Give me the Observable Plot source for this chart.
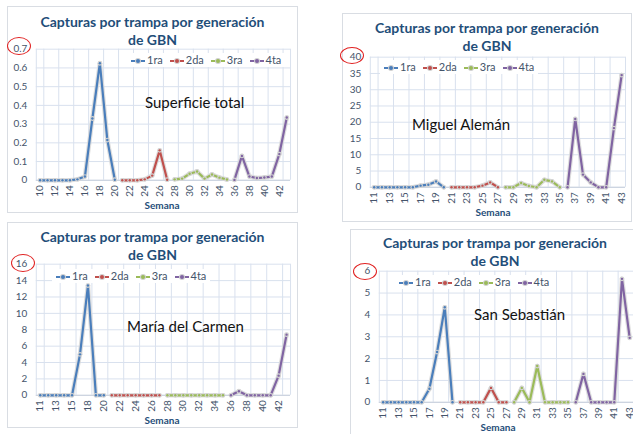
<!DOCTYPE html>
<html><head><meta charset="utf-8">
<script src="https://cdn.jsdelivr.net/npm/d3@7"></script>
<script src="https://cdn.jsdelivr.net/npm/@observablehq/plot@0.6"></script>
<style>
body{margin:0;width:633px;height:434px;overflow:hidden;position:relative;background:#fff;font-family:Lato,"Open Sans",sans-serif;}
.box{position:absolute;border:1px solid #d9dde3;box-sizing:border-box;background:#fff;}
.box svg{position:absolute;left:0;top:0;}
.abs{position:absolute;white-space:nowrap;}
.title{color:#1f4e79;font-weight:bold;font-size:14px;line-height:18px;text-align:center;}
.leg{background:#fff;color:#44546a;font-size:11px;line-height:14px;padding:0 4px;display:flex;gap:7px;align-items:center;}
.sw{display:inline-block;position:relative;width:14px;height:2px;margin-right:2px;vertical-align:middle;}
.sw i{position:absolute;left:5px;top:-1.5px;width:4px;height:4px;border-radius:50%;background:#cfcfcf;}
.lab{color:#111;font-size:15px;transform:translateY(-50%);}
.sem{color:#1f4e79;font-weight:bold;font-size:10px;transform:translate(-50%,-50%);}
.circ{position:absolute;border:1.3px solid #e02020;border-radius:50%;box-sizing:border-box;}
</style></head>
<body>
<script>
const gens = ["1ra", "2da", "3ra", "4ta"];
const genColors = ["#4a7ebb", "#c0504d", "#9bbb59", "#8064a2"];

// Superficie total
const weeksST = [10,11,12,13,14,15,16,17,18,19,20,21,22,23,24,25,26,27,28,29,30,31,32,33,34,35,36,37,38,39,40,41,42,43];
const valuesST = [0,0,0,0,0,0.005,0.02,0.33,0.625,0.215,0.003,
                  0,0,0,0.005,0.025,0.16,0.003,
                  0.005,0.009,0.035,0.047,0.009,0.031,0.014,0.004,
                  0.002,0.13,0.02,0.012,0.015,0.02,0.14,0.335];
const yTicksST = [0,0.1,0.2,0.3,0.4,0.5,0.6,0.7];

// Miguel Alemán
const weeksMA = [11,12,13,14,15,16,17,18,19,20,21,22,23,24,25,26,27,28,29,30,31,32,33,34,35,36,37,38,39,40,41,42,43];
const valuesMA = [0,0,0,0,0,0,0.5,0.8,1.8,0,
                  0,0,0,0,0.5,1.5,0,
                  0,0,1.3,0.4,0,2.3,1.8,0,
                  0,21,3.9,1.5,0,0,18.2,34.5];
const yTicksMA = [0,5,10,15,20,25,30,35,40];

// María del Carmen
const weeksMC = [11,12,13,14,15,16,18,19,20,21,22,23,24,25,26,27,28,29,30,31,32,33,34,35,36,37,38,39,40,41,42,43];
const valuesMC = [0,0,0,0,0,5,13.4,0,0,
                  0,0,0,0,0,0,0,
                  0,0,0,0,0,0,0,0,
                  0,0.5,0,0,0,0,2.4,7.4];
const yTicksMC = [0,2,4,6,8,10,12,14,16];

// San Sebastián
const weeksSS = [11,12,13,14,15,16,17,18,19,20,21,22,23,24,25,26,27,28,29,30,31,32,33,34,35,36,37,38,39,40,41,42,43];
const valuesSS = [0,0,0,0,0,0,0.62,2.3,4.35,0,
                  0,0,0,0,0.66,0,0,
                  0,0.66,0,1.66,0,0,0,0,
                  0,1.3,0,0,0,0,5.65,2.95];
const yTicksSS = [0,1,2,3,4,5,6];

const genOf = w => w <= 20 ? "1ra" : w <= 27 ? "2da" : w <= 35 ? "3ra" : "4ta";

const panels = [
  {weeks: weeksST, values: valuesST, yTicks: yTicksST, label: "Superficie total",
   box: [7, 6, 291, 207], m: [42, 7, 33, 28], titleTop: 13, leg: [127, 60], lab: [145, 102], sem: [162, 205], circ: [19, 46, 12, 9]},
  {weeks: weeksMA, values: valuesMA, yTicks: yTicksMA, label: "Miguel Alemán",
   box: [342, 13, 290, 209], m: [43, 6, 35, 27], titleTop: 19, leg: [380, 67], lab: [412, 124], sem: [493, 212], circ: [352, 55, 12, 8.5]},
  {weeks: weeksMC, values: valuesMC, yTicks: yTicksMC, label: "María del Carmen",
   box: [7, 222, 291, 206], m: [41, 7, 33, 28], titleTop: 228, leg: [52, 276], lab: [127, 326], sem: [162, 420], circ: [23, 263, 12, 9]},
  {weeks: weeksSS, values: valuesSS, yTicks: yTicksSS, label: "San Sebastián",
   box: [350, 229, 290, 208], m: [41, 6, 35, 28], titleTop: 234, leg: [395, 282], lab: [474, 314], sem: [498, 427], circ: [365, 271, 12, 8.5]}
];

function el(cls, html, styles) {
  const d = document.createElement("div");
  d.className = cls;
  d.innerHTML = html;
  Object.assign(d.style, styles);
  document.body.appendChild(d);
  return d;
}

for (const p of panels) {
  const [bx, by, bw, bh] = p.box;
  const [mt, mr, mb, ml] = p.m;
  const n = p.weeks.length;
  const data = p.weeks.map((w, i) => ({i, w, v: p.values[i], gen: genOf(w)}));
  const labeled = d3.range(0, n, 2);
  const gridX = [-0.5, ...labeled.map(i => i + 0.5).filter(x => x < n - 0.5), n - 0.5];
  const box = el("box", "", {left: bx + "px", top: by + "px", width: bw + "px", height: bh + "px"});
  const grid = "#d9e1ee";
  const chart = Plot.plot({
    width: bw, height: bh,
    marginTop: mt, marginRight: mr, marginBottom: mb, marginLeft: ml,
    style: {background: "transparent", color: "#44546a", fontFamily: "Lato, sans-serif", fontSize: "10px"},
    x: {type: "linear", domain: [-0.5, n - 0.5], axis: null},
    y: {domain: [0, p.yTicks[p.yTicks.length - 1]], axis: null},
    color: {domain: gens, range: genColors},
    marks: [
      Plot.ruleY(p.yTicks, {stroke: grid, strokeWidth: 1}),
      Plot.ruleX(gridX, {stroke: grid, strokeWidth: 1}),
      Plot.ruleY([0], {stroke: "#c8d0dc"}),
      Plot.axisY({ticks: p.yTicks, tickFormat: d => String(d), tickSize: 0, tickPadding: 9, label: null, fontSize: 10}),
      Plot.axisX({ticks: labeled, tickFormat: i => String(p.weeks[i]), tickRotate: -90, tickSize: 0, tickPadding: 5, label: null, fontSize: 10}),
      Plot.line(data, {x: "i", y: "v", z: "gen", stroke: "#d6d6d6", strokeWidth: 4.5, strokeOpacity: 0.8}),
      Plot.line(data, {x: "i", y: "v", z: "gen", stroke: "gen", strokeWidth: 2.2}),
      Plot.dot(data, {x: "i", y: "v", r: 2.4, fill: "#d3d3d3"}),
      Plot.dot(data, {x: "i", y: "v", r: 1.2, fill: "gen"})
    ]
  });
  box.appendChild(chart);
  el("abs title", "Capturas por trampa por generación<br>de GBN", {left: bx + "px", width: bw + "px", top: p.titleTop + "px"});
  const legHtml = gens.map((g, k) => `<span><span class="sw" style="background:${genColors[k]}"><i style="background:${genColors[k]};box-shadow:0 0 0 1px #d0d0d0"></i></span>${g}</span>`).join("");
  el("abs leg", legHtml, {left: p.leg[0] + "px", top: (p.leg[1] - 7) + "px"});
  el("abs lab", p.label, {left: p.lab[0] + "px", top: p.lab[1] + "px"});
  el("abs sem", "Semana", {left: p.sem[0] + "px", top: p.sem[1] + "px"});
  const [cx, cy, rx, ry] = p.circ;
  el("circ", "", {left: (cx - rx) + "px", top: (cy - ry) + "px", width: 2 * rx + "px", height: 2 * ry + "px"});
}
</script>
</body></html>
